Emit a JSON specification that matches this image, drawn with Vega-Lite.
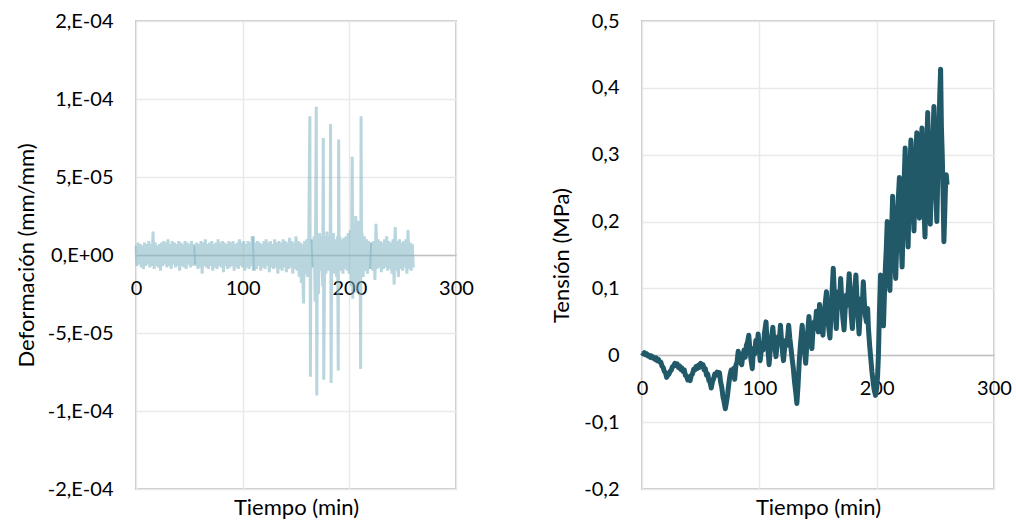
{
  "$schema": "https://vega.github.io/schema/vega-lite/v6.json",
  "background": "white",
  "padding": {"left": 14, "top": 10, "right": 5, "bottom": 5},
  "bounds": "flush",
  "spacing": 186,
  "config": {
    "font": "Lato",
    "view": {"stroke": "#c8c8c8", "strokeWidth": 2},
    "axis": {
      "labelFont": "Lato",
      "titleFont": "Lato",
      "labelFontSize": 20,
      "titleFontSize": 22,
      "titleFontWeight": "normal",
      "labelColor": "#000000",
      "titleColor": "#000000",
      "gridColor": "#e9e9e9",
      "gridWidth": 1.5,
      "ticks": false,
      "domain": false
    }
  },
  "datasets": {
    "deformacion": [
      {"t":0,"d":6e-6,"s":1},{"t":1,"d":-7e-6,"s":1},{"t":2,"d":8e-6,"s":1},{"t":3,"d":-6e-6,"s":1},{"t":4,"d":7e-6,"s":1},{"t":5,"d":-8e-6,"s":1},{"t":6,"d":6e-6,"s":1},{"t":7,"d":-9e-6,"s":1},{"t":8,"d":8e-6,"s":1},{"t":9,"d":-7e-6,"s":1},
      {"t":10,"d":7e-6,"s":1},{"t":11,"d":-6e-6,"s":1},{"t":12,"d":9e-6,"s":1},{"t":13,"d":-8e-6,"s":1},{"t":14,"d":7e-6,"s":1},{"t":15,"d":-7e-6,"s":1},{"t":16,"d":15e-6,"s":1},{"t":17,"d":-9e-6,"s":1},{"t":18,"d":8e-6,"s":1},{"t":19,"d":-7e-6,"s":1},
      {"t":20,"d":6e-6,"s":1},{"t":21,"d":-8e-6,"s":1},{"t":22,"d":7e-6,"s":1},{"t":23,"d":-10e-6,"s":1},{"t":24,"d":8e-6,"s":1},{"t":25,"d":-7e-6,"s":1},{"t":26,"d":9e-6,"s":1},{"t":27,"d":-6e-6,"s":1},{"t":28,"d":8e-6,"s":1},{"t":29,"d":-8e-6,"s":1},
      {"t":30,"d":10e-6,"s":1},{"t":31,"d":-7e-6,"s":1},{"t":32,"d":7e-6,"s":1},{"t":33,"d":-9e-6,"s":1},{"t":34,"d":9e-6,"s":1},{"t":35,"d":-6e-6,"s":1},{"t":36,"d":8e-6,"s":1},{"t":37,"d":-8e-6,"s":1},{"t":38,"d":7e-6,"s":1},{"t":39,"d":-7e-6,"s":1},
      {"t":40,"d":9e-6,"s":1},{"t":41,"d":-10e-6,"s":1},{"t":42,"d":8e-6,"s":1},{"t":43,"d":-7e-6,"s":1},{"t":44,"d":7e-6,"s":1},{"t":45,"d":-8e-6,"s":1},{"t":46,"d":9e-6,"s":1},{"t":47,"d":-9e-6,"s":1},{"t":48,"d":8e-6,"s":1},{"t":49,"d":-6e-6,"s":1},
      {"t":50,"d":7e-6,"s":1},{"t":51,"d":-8e-6,"s":1},{"t":52,"d":9e-6,"s":1},{"t":53,"d":-7e-6,"s":1},{"t":54,"d":7e-6,"s":1},{"t":55,"d":-6e-6,"s":1},
      {"t":55,"d":6e-6,"s":2},{"t":56,"d":-7e-6,"s":2},{"t":57,"d":8e-6,"s":2},{"t":58,"d":-9e-6,"s":2},{"t":59,"d":7e-6,"s":2},{"t":60,"d":-8e-6,"s":2},{"t":61,"d":9e-6,"s":2},{"t":62,"d":-12e-6,"s":2},{"t":63,"d":8e-6,"s":2},{"t":64,"d":-7e-6,"s":2},
      {"t":65,"d":10e-6,"s":2},{"t":66,"d":-8e-6,"s":2},{"t":67,"d":7e-6,"s":2},{"t":68,"d":-9e-6,"s":2},{"t":69,"d":8e-6,"s":2},{"t":70,"d":-7e-6,"s":2},{"t":71,"d":9e-6,"s":2},{"t":72,"d":-10e-6,"s":2},{"t":73,"d":7e-6,"s":2},{"t":74,"d":-8e-6,"s":2},
      {"t":75,"d":8e-6,"s":2},{"t":76,"d":-9e-6,"s":2},{"t":77,"d":10e-6,"s":2},{"t":78,"d":-7e-6,"s":2},{"t":79,"d":8e-6,"s":2},{"t":80,"d":-8e-6,"s":2},{"t":81,"d":9e-6,"s":2},{"t":82,"d":-11e-6,"s":2},{"t":83,"d":8e-6,"s":2},{"t":84,"d":-7e-6,"s":2},
      {"t":85,"d":7e-6,"s":2},{"t":86,"d":-9e-6,"s":2},{"t":87,"d":9e-6,"s":2},{"t":88,"d":-8e-6,"s":2},{"t":89,"d":8e-6,"s":2},{"t":90,"d":-7e-6,"s":2},{"t":91,"d":9e-6,"s":2},{"t":92,"d":-10e-6,"s":2},{"t":93,"d":7e-6,"s":2},{"t":94,"d":-8e-6,"s":2},
      {"t":95,"d":8e-6,"s":2},{"t":96,"d":-9e-6,"s":2},{"t":97,"d":10e-6,"s":2},{"t":98,"d":-7e-6,"s":2},{"t":99,"d":8e-6,"s":2},{"t":100,"d":-8e-6,"s":2},{"t":101,"d":9e-6,"s":2},{"t":102,"d":-10e-6,"s":2},{"t":103,"d":7e-6,"s":2},{"t":104,"d":-8e-6,"s":2},
      {"t":105,"d":9e-6,"s":2},{"t":106,"d":-9e-6,"s":2},{"t":107,"d":8e-6,"s":2},{"t":108,"d":-7e-6,"s":2},{"t":109,"d":12e-6,"s":2},{"t":110,"d":-10e-6,"s":2},
      {"t":110,"d":12e-6,"s":3},{"t":111,"d":-10e-6,"s":3},{"t":112,"d":8e-6,"s":3},{"t":113,"d":-9e-6,"s":3},{"t":114,"d":9e-6,"s":3},{"t":115,"d":-7e-6,"s":3},{"t":116,"d":8e-6,"s":3},{"t":117,"d":-10e-6,"s":3},{"t":118,"d":7e-6,"s":3},{"t":119,"d":-8e-6,"s":3},
      {"t":120,"d":9e-6,"s":3},{"t":121,"d":-9e-6,"s":3},{"t":122,"d":10e-6,"s":3},{"t":123,"d":-7e-6,"s":3},{"t":124,"d":8e-6,"s":3},{"t":125,"d":-11e-6,"s":3},{"t":126,"d":9e-6,"s":3},{"t":127,"d":-8e-6,"s":3},{"t":128,"d":7e-6,"s":3},{"t":129,"d":-9e-6,"s":3},
      {"t":130,"d":10e-6,"s":3},{"t":131,"d":-8e-6,"s":3},{"t":132,"d":8e-6,"s":3},{"t":133,"d":-12e-6,"s":3},{"t":134,"d":9e-6,"s":3},{"t":135,"d":-9e-6,"s":3},{"t":136,"d":8e-6,"s":3},{"t":137,"d":-10e-6,"s":3},{"t":138,"d":10e-6,"s":3},{"t":139,"d":-8e-6,"s":3},
      {"t":140,"d":9e-6,"s":3},{"t":141,"d":-11e-6,"s":3},{"t":142,"d":8e-6,"s":3},{"t":143,"d":-9e-6,"s":3},{"t":144,"d":11e-6,"s":3},{"t":145,"d":-8e-6,"s":3},{"t":146,"d":9e-6,"s":3},{"t":147,"d":-12e-6,"s":3},{"t":148,"d":8e-6,"s":3},{"t":149,"d":-9e-6,"s":3},
      {"t":150,"d":12e-6,"s":3},{"t":151,"d":-10e-6,"s":3},{"t":152,"d":9e-6,"s":3},{"t":153,"d":-14e-6,"s":3},{"t":154,"d":8e-6,"s":3},{"t":155,"d":-18e-6,"s":3},{"t":156,"d":7e-6,"s":3},{"t":157,"d":-31e-6,"s":3},{"t":158,"d":9e-6,"s":3},{"t":159,"d":-12e-6,"s":3},
      {"t":160,"d":10e-6,"s":3},{"t":161,"d":-14e-6,"s":3},{"t":162,"d":12e-6,"s":3},{"t":163,"d":89e-6,"s":3},{"t":163.5,"d":-78e-6,"s":3},{"t":164,"d":10e-6,"s":3},{"t":165,"d":-8e-6,"s":3},
      {"t":165,"d":10e-6,"s":4},{"t":166,"d":-8e-6,"s":4},{"t":167,"d":12e-6,"s":4},{"t":168,"d":-30e-6,"s":4},{"t":169,"d":95e-6,"s":4},{"t":169.5,"d":-90e-6,"s":4},{"t":170,"d":10e-6,"s":4},{"t":171,"d":-25e-6,"s":4},{"t":172,"d":14e-6,"s":4},{"t":173,"d":-10e-6,"s":4},
      {"t":174,"d":12e-6,"s":4},{"t":175,"d":-20e-6,"s":4},{"t":175.6,"d":75e-6,"s":4},{"t":176,"d":-80e-6,"s":4},{"t":177,"d":12e-6,"s":4},{"t":178,"d":-12e-6,"s":4},{"t":179,"d":15e-6,"s":4},{"t":180,"d":-10e-6,"s":4},{"t":181,"d":12e-6,"s":4},{"t":182,"d":-9e-6,"s":4},
      {"t":182.4,"d":84e-6,"s":4},{"t":182.9,"d":-82e-6,"s":4},{"t":183.5,"d":12e-6,"s":4},{"t":184,"d":-10e-6,"s":4},{"t":185,"d":14e-6,"s":4},{"t":186,"d":-12e-6,"s":4},{"t":187,"d":10e-6,"s":4},{"t":188,"d":-14e-6,"s":4},{"t":189,"d":12e-6,"s":4},{"t":189.6,"d":-74e-6,"s":4},
      {"t":190,"d":74e-6,"s":4},{"t":190.5,"d":-10e-6,"s":4},{"t":191,"d":12e-6,"s":4},{"t":192,"d":-10e-6,"s":4},{"t":193,"d":10e-6,"s":4},{"t":194,"d":-12e-6,"s":4},{"t":195,"d":11e-6,"s":4},{"t":196,"d":-9e-6,"s":4},{"t":197,"d":12e-6,"s":4},{"t":198,"d":-10e-6,"s":4},
      {"t":199,"d":14e-6,"s":4},{"t":200,"d":-12e-6,"s":4},{"t":201,"d":16e-6,"s":4},{"t":202,"d":-20e-6,"s":4},{"t":202.7,"d":63e-6,"s":4},{"t":203.2,"d":-28e-6,"s":4},{"t":204,"d":20e-6,"s":4},{"t":205,"d":-22e-6,"s":4},{"t":206,"d":25e-6,"s":4},{"t":207,"d":-24e-6,"s":4},
      {"t":208,"d":22e-6,"s":4},{"t":209,"d":-18e-6,"s":4},{"t":210,"d":20e-6,"s":4},{"t":210.6,"d":-73e-6,"s":4},{"t":211,"d":89e-6,"s":4},{"t":211.5,"d":-12e-6,"s":4},{"t":212,"d":14e-6,"s":4},{"t":213,"d":-14e-6,"s":4},{"t":214,"d":12e-6,"s":4},{"t":215,"d":-10e-6,"s":4},
      {"t":216,"d":10e-6,"s":4},{"t":217,"d":-12e-6,"s":4},{"t":218,"d":9e-6,"s":4},{"t":219,"d":-9e-6,"s":4},{"t":220,"d":8e-6,"s":4},
      {"t":220,"d":-9e-6,"s":5},{"t":221,"d":8e-6,"s":5},{"t":222,"d":-10e-6,"s":5},{"t":223,"d":9e-6,"s":5},{"t":224,"d":-16e-6,"s":5},{"t":225,"d":20e-6,"s":5},{"t":226,"d":-9e-6,"s":5},{"t":227,"d":10e-6,"s":5},{"t":228,"d":-8e-6,"s":5},{"t":229,"d":9e-6,"s":5},
      {"t":230,"d":-11e-6,"s":5},{"t":231,"d":8e-6,"s":5},{"t":232,"d":-9e-6,"s":5},{"t":233,"d":10e-6,"s":5},{"t":234,"d":-8e-6,"s":5},{"t":235,"d":12e-6,"s":5},{"t":236,"d":-10e-6,"s":5},{"t":237,"d":9e-6,"s":5},{"t":238,"d":-9e-6,"s":5},{"t":239,"d":8e-6,"s":5},
      {"t":240,"d":-12e-6,"s":5},{"t":241,"d":10e-6,"s":5},{"t":242,"d":-19e-6,"s":5},{"t":243,"d":18e-6,"s":5},{"t":244,"d":-10e-6,"s":5},{"t":245,"d":9e-6,"s":5},{"t":246,"d":-14e-6,"s":5},{"t":247,"d":10e-6,"s":5},{"t":248,"d":-9e-6,"s":5},{"t":249,"d":8e-6,"s":5},
      {"t":250,"d":-10e-6,"s":5},{"t":251,"d":9e-6,"s":5},{"t":252,"d":-8e-6,"s":5},{"t":253,"d":10e-6,"s":5},{"t":254,"d":-12e-6,"s":5},{"t":255,"d":16e-6,"s":5},{"t":256,"d":-9e-6,"s":5},{"t":257,"d":8e-6,"s":5},{"t":258,"d":-10e-6,"s":5},{"t":259,"d":7e-6,"s":5},
      {"t":260,"d":-8e-6,"s":5}
    ],
    "tension": [
      {"t":0,"v":0.004},{"t":1,"v":0.002},{"t":2,"v":0.004},{"t":3,"v":0.001},{"t":4,"v":0.002},{"t":5,"v":-0.001},{"t":6,"v":0.000},{"t":7,"v":-0.003},{"t":8,"v":-0.001},{"t":9,"v":-0.004},
      {"t":10,"v":-0.003},{"t":11,"v":-0.006},{"t":12,"v":-0.004},{"t":13,"v":-0.008},{"t":14,"v":-0.006},{"t":15,"v":-0.010},{"t":16,"v":-0.010},{"t":17,"v":-0.016},{"t":18,"v":-0.018},{"t":19,"v":-0.024},
      {"t":20,"v":-0.026},{"t":21,"v":-0.033},{"t":22,"v":-0.030},{"t":23,"v":-0.028},{"t":24,"v":-0.024},{"t":25,"v":-0.022},{"t":26,"v":-0.017},{"t":27,"v":-0.016},{"t":28,"v":-0.012},{"t":29,"v":-0.015},
      {"t":30,"v":-0.013},{"t":31,"v":-0.018},{"t":32,"v":-0.016},{"t":33,"v":-0.021},{"t":34,"v":-0.019},{"t":35,"v":-0.024},{"t":36,"v":-0.022},{"t":37,"v":-0.030},{"t":38,"v":-0.031},{"t":39,"v":-0.037},
      {"t":40,"v":-0.036},{"t":41,"v":-0.038},{"t":42,"v":-0.030},{"t":43,"v":-0.028},{"t":44,"v":-0.021},{"t":45,"v":-0.022},{"t":46,"v":-0.017},{"t":47,"v":-0.020},{"t":48,"v":-0.015},{"t":49,"v":-0.018},
      {"t":50,"v":-0.012},{"t":51,"v":-0.017},{"t":52,"v":-0.014},{"t":53,"v":-0.022},{"t":54,"v":-0.020},{"t":55,"v":-0.030},{"t":56,"v":-0.028},{"t":57,"v":-0.038},{"t":58,"v":-0.040},{"t":59,"v":-0.049},
      {"t":60,"v":-0.040},{"t":61,"v":-0.035},{"t":62,"v":-0.028},{"t":63,"v":-0.030},{"t":64,"v":-0.025},{"t":65,"v":-0.029},{"t":66,"v":-0.026},{"t":67,"v":-0.040},{"t":68,"v":-0.048},{"t":69,"v":-0.062},
      {"t":70,"v":-0.070},{"t":71,"v":-0.080},{"t":72,"v":-0.070},{"t":73,"v":-0.058},{"t":74,"v":-0.042},{"t":75,"v":-0.030},{"t":76,"v":-0.022},{"t":77,"v":-0.028},{"t":78,"v":-0.020},{"t":79,"v":-0.036},
      {"t":80,"v":-0.015},{"t":81,"v":-0.010},{"t":82,"v":0.006},{"t":83,"v":-0.002},{"t":84,"v":-0.010},{"t":85,"v":-0.014},{"t":86,"v":0.000},{"t":87,"v":0.008},{"t":88,"v":-0.003},{"t":89,"v":0.015},
      {"t":90,"v":0.020},{"t":91,"v":0.030},{"t":92,"v":0.008},{"t":93,"v":-0.008},{"t":94,"v":-0.020},{"t":95,"v":0.010},{"t":96,"v":0.002},{"t":97,"v":0.022},{"t":98,"v":0.012},{"t":99,"v":0.032},
      {"t":100,"v":0.010},{"t":100.7,"v":-0.008},{"t":101.5,"v":0.005},{"t":102.5,"v":0.018},{"t":103.3,"v":0.008},{"t":104.3,"v":0.032},{"t":105.7,"v":0.050},{"t":106.5,"v":0.022},{"t":107.3,"v":0.010},{"t":108.3,"v":-0.014},
      {"t":109.3,"v":0.008},{"t":110.3,"v":0.025},{"t":111.5,"v":0.042},{"t":112.5,"v":0.020},{"t":113.3,"v":0.012},{"t":114.2,"v":-0.002},{"t":115,"v":0.015},{"t":116.2,"v":0.028},{"t":117,"v":0.020},{"t":118,"v":0.045},
      {"t":119,"v":0.020},{"t":119.8,"v":0.004},{"t":120.6,"v":-0.008},{"t":121.5,"v":0.010},{"t":122.5,"v":0.022},{"t":123.5,"v":0.015},{"t":125,"v":0.045},{"t":126,"v":0.025},{"t":127,"v":0.010},{"t":128,"v":-0.006},
      {"t":129,"v":-0.020},{"t":130,"v":-0.040},{"t":131,"v":-0.055},{"t":132,"v":-0.072},{"t":133,"v":-0.045},{"t":134,"v":-0.010},{"t":135,"v":0.015},{"t":136.5,"v":0.045},{"t":137.5,"v":0.020},{"t":138.5,"v":0.008},
      {"t":139.5,"v":-0.012},{"t":140.3,"v":0.010},{"t":141.2,"v":0.035},{"t":142.3,"v":0.058},{"t":143.2,"v":0.035},{"t":144,"v":0.020},{"t":144.8,"v":0.010},{"t":145.8,"v":0.040},{"t":146.8,"v":0.050},{"t":147.6,"v":0.040},
      {"t":148.6,"v":0.066},{"t":149.5,"v":0.045},{"t":150.3,"v":0.035},{"t":151.3,"v":0.076},{"t":152.3,"v":0.055},{"t":153.2,"v":0.042},{"t":154.2,"v":0.030},{"t":155,"v":0.055},{"t":156,"v":0.075},{"t":157.2,"v":0.095},
      {"t":158.2,"v":0.060},{"t":159.2,"v":0.040},{"t":160.2,"v":0.026},{"t":161,"v":0.060},{"t":162,"v":0.095},{"t":163,"v":0.130},{"t":164,"v":0.090},{"t":164.8,"v":0.060},{"t":165.6,"v":0.040},{"t":166.5,"v":0.075},
      {"t":167.5,"v":0.095},{"t":168.5,"v":0.080},{"t":169.3,"v":0.115},{"t":170.3,"v":0.080},{"t":171.2,"v":0.055},{"t":172.2,"v":0.038},{"t":173.2,"v":0.070},{"t":174.2,"v":0.090},{"t":175,"v":0.075},{"t":176.6,"v":0.122},
      {"t":177.5,"v":0.090},{"t":178.3,"v":0.060},{"t":179.3,"v":0.040},{"t":180.3,"v":0.075},{"t":181.2,"v":0.095},{"t":182.3,"v":0.120},{"t":183.2,"v":0.085},{"t":184,"v":0.060},{"t":185,"v":0.032},{"t":186,"v":0.065},
      {"t":187,"v":0.085},{"t":187.8,"v":0.075},{"t":188.6,"v":0.110},{"t":189.5,"v":0.080},{"t":190.3,"v":0.060},{"t":191.3,"v":0.050},{"t":192.3,"v":0.070},{"t":193,"v":0.040},{"t":194,"v":0.015},{"t":195,"v":-0.005},
      {"t":196,"v":-0.025},{"t":197,"v":-0.040},{"t":198,"v":-0.052},{"t":199,"v":-0.060},{"t":200,"v":-0.050},{"t":200.8,"v":-0.030},{"t":201.5,"v":0.000},{"t":202.3,"v":0.060},{"t":203.3,"v":0.120},{"t":204.2,"v":0.090},
      {"t":205,"v":0.060},{"t":205.8,"v":0.044},{"t":206.6,"v":0.090},{"t":207.4,"v":0.130},{"t":208.2,"v":0.160},{"t":209,"v":0.200},{"t":209.8,"v":0.150},{"t":210.5,"v":0.120},{"t":211.3,"v":0.097},{"t":212,"v":0.150},
      {"t":212.8,"v":0.190},{"t":213.6,"v":0.238},{"t":214.4,"v":0.190},{"t":215.2,"v":0.150},{"t":216.2,"v":0.115},{"t":217,"v":0.160},{"t":217.8,"v":0.210},{"t":218.6,"v":0.240},{"t":219.4,"v":0.266},{"t":220.2,"v":0.210},
      {"t":221,"v":0.165},{"t":221.7,"v":0.132},{"t":222.5,"v":0.190},{"t":223.4,"v":0.260},{"t":224.3,"v":0.310},{"t":225,"v":0.260},{"t":225.8,"v":0.210},{"t":226.8,"v":0.162},{"t":227.6,"v":0.230},{"t":228.4,"v":0.280},
      {"t":229.2,"v":0.322},{"t":230,"v":0.270},{"t":230.8,"v":0.230},{"t":231.8,"v":0.186},{"t":232.6,"v":0.250},{"t":233.4,"v":0.300},{"t":234.2,"v":0.333},{"t":235,"v":0.280},{"t":235.7,"v":0.235},{"t":236.4,"v":0.205},
      {"t":237.2,"v":0.270},{"t":238,"v":0.310},{"t":238.6,"v":0.340},{"t":239.4,"v":0.280},{"t":240.3,"v":0.220},{"t":241.2,"v":0.177},{"t":242,"v":0.250},{"t":242.8,"v":0.320},{"t":243.5,"v":0.363},{"t":244.2,"v":0.300},
      {"t":245,"v":0.240},{"t":245.7,"v":0.196},{"t":246.5,"v":0.250},{"t":247.3,"v":0.300},{"t":248,"v":0.330},{"t":248.8,"v":0.372},{"t":249.6,"v":0.300},{"t":250.4,"v":0.240},{"t":251.3,"v":0.200},{"t":252.2,"v":0.280},
      {"t":253,"v":0.340},{"t":253.8,"v":0.390},{"t":254.5,"v":0.428},{"t":255.2,"v":0.340},{"t":255.9,"v":0.300},{"t":256.6,"v":0.240},{"t":257.3,"v":0.170},{"t":258,"v":0.210},{"t":258.7,"v":0.255},{"t":259.3,"v":0.270},
      {"t":260,"v":0.255}
    ]
  },
  "hconcat": [
    {
      "width": 320,
      "height": 468,
      "data": {"name": "deformacion"},
      "mark": {"type": "line", "color": "#7fb2c2", "opacity": 0.55, "strokeWidth": 3},
      "encoding": {
        "x": {
          "field": "t",
          "type": "quantitative",
          "scale": {"domain": [0, 300], "nice": false},
          "axis": {
            "values": [0, 100, 200, 300],
            "offset": -234,
            "domain": true,
            "domainColor": "#c0c0c0",
            "domainWidth": 1.5,
            "labelPadding": 23,
            "labelFlush": false,
            "labelOverlap": false,
            "title": "Tiempo (min)",
            "titleFontWeight": "normal",
            "titleY": 259,
            "titleBaseline": "alphabetic"
          }
        },
        "y": {
          "field": "d",
          "type": "quantitative",
          "scale": {"domain": [-0.00015, 0.00015], "nice": false, "zero": false},
          "axis": {
            "values": [-0.00015, -0.0001, -0.00005, 0, 0.00005, 0.0001, 0.00015],
            "labelExpr": "['-2,E-04','-1,E-04','-5,E-05','0,E+00','5,E-05','1,E-04','2,E-04'][round(datum.value / 0.00005) + 3]",
            "labelPadding": 23,
            "title": "Deformación (mm/mm)",
            "titleFontWeight": "normal",
            "titleX": -103,
            "titleBaseline": "alphabetic"
          }
        },
        "detail": {"field": "s", "type": "nominal"}
      }
    },
    {
      "width": 352,
      "height": 468,
      "data": {"name": "tension"},
      "mark": {"type": "line", "color": "#215968", "strokeWidth": 5, "strokeJoin": "round"},
      "encoding": {
        "x": {
          "field": "t",
          "type": "quantitative",
          "scale": {"domain": [0, 300], "nice": false},
          "axis": {
            "values": [0, 100, 200, 300],
            "offset": -134,
            "domain": true,
            "domainColor": "#c0c0c0",
            "domainWidth": 1.5,
            "labelPadding": 23,
            "labelFlush": false,
            "labelOverlap": false,
            "title": "Tiempo (min)",
            "titleFontWeight": "normal",
            "titleY": 159,
            "titleBaseline": "alphabetic"
          }
        },
        "y": {
          "field": "v",
          "type": "quantitative",
          "scale": {"domain": [-0.2, 0.5], "nice": false, "zero": false},
          "axis": {
            "values": [-0.2, -0.1, 0, 0.1, 0.2, 0.3, 0.4, 0.5],
            "labelExpr": "replace(replace(format(datum.value, '.1~f'), '.', ','), '−', '-')",
            "labelPadding": 23,
            "title": "Tensión (MPa)",
            "titleFontWeight": "normal",
            "titleX": -74,
            "titleBaseline": "alphabetic"
          }
        }
      }
    }
  ]
}
